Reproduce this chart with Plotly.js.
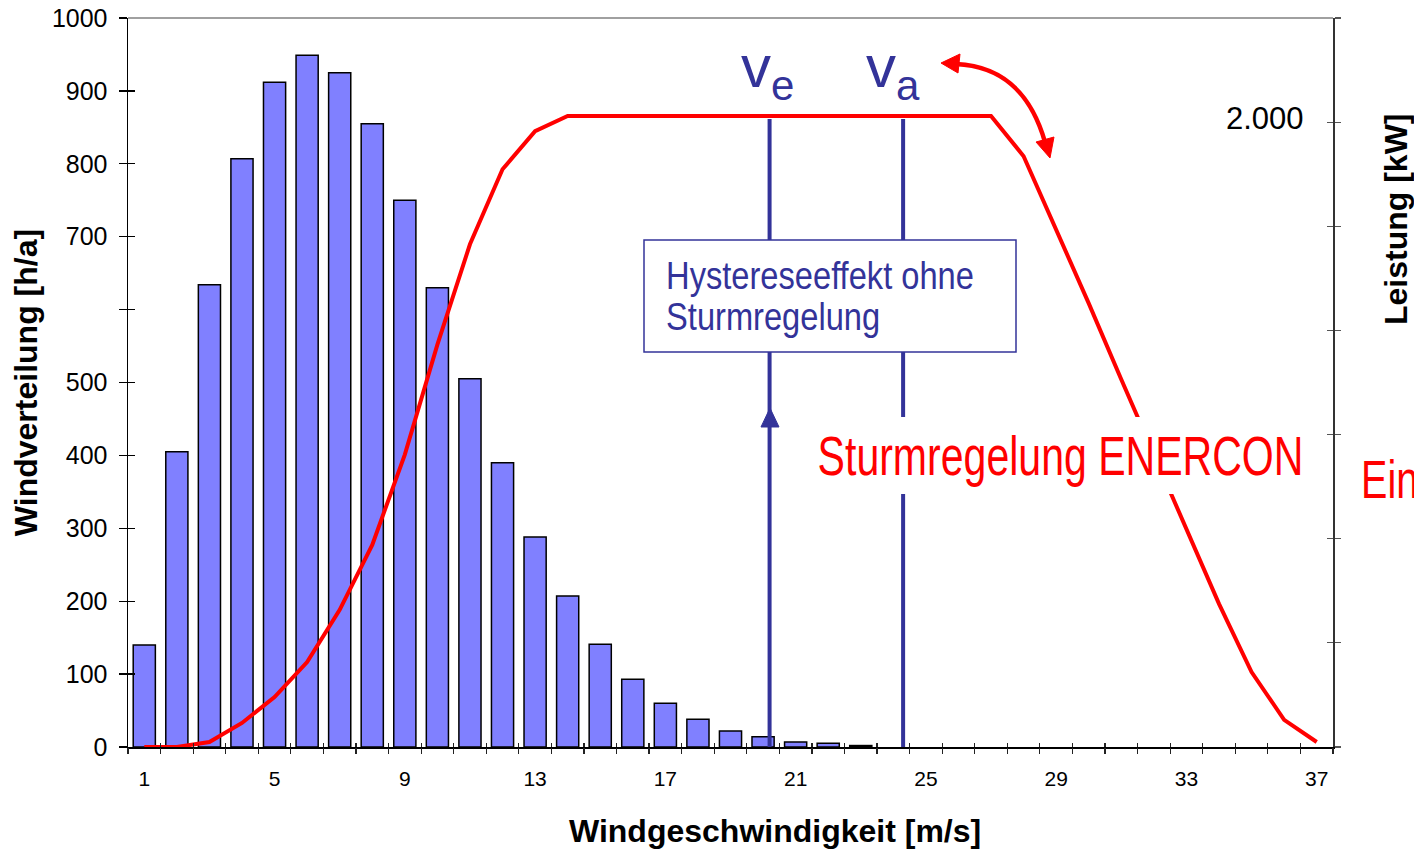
<!DOCTYPE html>
<html>
<head>
<meta charset="utf-8">
<script src="https://cdn.plot.ly/plotly-3.0.1.min.js"></script>
<style>
  html, body { margin: 0; padding: 0; background: #ffffff; }
  #chart { width: 1414px; height: 850px; }
</style>
</head>
<body>
<div id="chart"></div>
<script>
// ---------- data ----------
const windSpeed = [1,2,3,4,5,6,7,8,9,10,11,12,13,14,15,16,17,18,19,20,21,22,23,24,25,26,27,28,29,30,31,32,33,34,35,36,37];
const hoursPerYear = [140,405,634,807,912,949,925,855,750,630,505,390,288,207,141,93,60,38,22,14,7,5,2,null,null,null,null,null,null,null,null,null,null,null,null,null,null];
const powerKW = [0,0,16,77,160,272,439,647,936,1288,1609,1849,1971,2020,2020,2020,2020,2020,2020,2020,2020,2020,2020,2020,2020,2020,2020,1891,1657,1420,1176,939,696,458,240,87,16];

const xTickVals = [1,5,9,13,17,21,25,29,33,37];
const xTickText = ['1','5','9','13','17','21','25','29','33','37'];
const xBoundaryTicks = [0.5,1.5,2.5,3.5,4.5,5.5,6.5,7.5,8.5,9.5,10.5,11.5,12.5,13.5,14.5,15.5,16.5,17.5,18.5,19.5,20.5,21.5,22.5,23.5,24.5,25.5,26.5,27.5,28.5,29.5,30.5,31.5,32.5,33.5,34.5,35.5,36.5,37.5];
const yTickVals = [0,100,200,300,400,500,600,700,800,900,1000];
const yTickText = ['0','100','200','300','400','500','','700','800','900','1000'];
const y2TickVals = [0,333.33,666.67,1000,1333.33,1666.67,2000,2333.33];
const y2LabelValue = 2000;
const y2LabelText = '2.000';

const vEin = 20.2;   // v_e
const vAus = 24.3;   // v_a
const vTop = 2010;

// ---------- helpers (pixel -> paper for decorations) ----------
const L = 128, R = 1333, T = 18, B = 747;
function px(x){ return (x - L) / (R - L); }
function py(y){ return (B - y) / (B - T); }
function P(x, y){ return px(x).toFixed(5) + ',' + py(y).toFixed(5); }

const blue = '#333399';
const red = '#FF0000';
const arial = '"Liberation Sans", Arial, sans-serif';

const traces = [
  {
    type: 'bar', x: windSpeed, y: hoursPerYear, width: 0.68,
    marker: { color: '#8080FF', line: { color: '#000000', width: 1.5 } },
    xaxis: 'x', yaxis: 'y', showlegend: false, hoverinfo: 'skip'
  },
  {
    type: 'scatter', mode: 'lines', x: windSpeed, y: powerKW,
    line: { color: red, width: 4 },
    xaxis: 'x', yaxis: 'y2', showlegend: false, hoverinfo: 'skip'
  },
  { type: 'scatter', x: [], y: [], xaxis: 'x2', yaxis: 'y', showlegend: false },
  { type: 'scatter', x: [], y: [], xaxis: 'x3', yaxis: 'y', showlegend: false },
  { type: 'scatter', x: [], y: [], xaxis: 'x', yaxis: 'y3', showlegend: false },
  { type: 'scatter', x: [], y: [], xaxis: 'x', yaxis: 'y4', showlegend: false }
];

// annotations; narrow ones get a horizontal squeeze after rendering (condensed face)
const annotations = [
  { text: y2LabelText, xref: 'paper', yref: 'y2', x: px(1306), y: y2LabelValue, xanchor: 'right', yanchor: 'middle', yshift: 4,
    showarrow: false, font: { size: 31, family: arial, color: '#000' } },
  { text: 'Windgeschwindigkeit [m/s]', xref: 'paper', yref: 'paper', x: px(775), y: py(831), xanchor: 'center', yanchor: 'middle',
    showarrow: false, font: { size: 32, family: arial, weight: 'bold', color: '#000' } },
  { text: 'Leistung [kW]', xref: 'paper', yref: 'paper', x: px(1396), y: py(219), xanchor: 'center', yanchor: 'middle', textangle: -90,
    showarrow: false, font: { size: 32, family: arial, weight: 'bold', color: '#000' } },
  { text: 'v<sub>e</sub>', xref: 'paper', yref: 'paper', x: px(739), y: py(71), xanchor: 'left', yanchor: 'middle',
    showarrow: false, font: { size: 60, family: arial, color: blue } },
  { text: 'v<sub>a</sub>', xref: 'paper', yref: 'paper', x: px(864), y: py(71), xanchor: 'left', yanchor: 'middle',
    showarrow: false, font: { size: 60, family: arial, color: blue } },
  { text: 'Hystereseeffekt ohne', xref: 'paper', yref: 'paper', x: px(664), y: py(276), xanchor: 'left', yanchor: 'middle',
    showarrow: false, font: { size: 38, family: arial, color: blue } },
  { text: 'Sturmregelung', xref: 'paper', yref: 'paper', x: px(664), y: py(317), xanchor: 'left', yanchor: 'middle',
    showarrow: false, font: { size: 38, family: arial, color: blue } },
  { text: 'Sturmregelung ENERCON', xref: 'paper', yref: 'paper', x: px(1060), y: py(456), xanchor: 'center', yanchor: 'middle',
    showarrow: false, font: { size: 55, family: arial, color: red } },
  { text: 'Ein', xref: 'paper', yref: 'paper', x: px(1359), y: py(479), xanchor: 'left', yanchor: 'middle',
    showarrow: false, font: { size: 53, family: arial, color: red } }
];
// index -> {width in px (target), or same: index to copy factor from}, pivot
const squeeze = {
  5: { width: 308, pivot: 'left' },
  6: { same: 5, pivot: 'left' },
  7: { width: 486, pivot: 'center' },
  8: { same: 7, pivot: 'left' }
};

const xr = [0.5, 37.5];
const layout = {
  width: 1414, height: 850,
  margin: { l: L, r: 1414 - R, t: T, b: 850 - B, pad: 0 },
  paper_bgcolor: '#ffffff', plot_bgcolor: '#ffffff',
  font: { family: arial, color: '#000000' },
  showlegend: false,
  xaxis: {
    range: xr, tickmode: 'array', tickvals: xTickVals, ticktext: xTickText,
    ticks: '', showgrid: false, zeroline: false,
    showline: true, linecolor: '#000000', linewidth: 1.5,
    tickfont: { size: 21, family: arial, color: '#000' }, ticklabelstandoff: 12
  },
  xaxis2: {
    overlaying: 'x', anchor: 'y', side: 'bottom', range: xr,
    tickmode: 'array', tickvals: xBoundaryTicks, ticks: 'outside', ticklen: 6, tickwidth: 1.2, tickcolor: '#222',
    showticklabels: false, showgrid: false, zeroline: false, showline: false
  },
  xaxis3: {
    overlaying: 'x', anchor: 'y', side: 'bottom', range: xr,
    tickmode: 'array', tickvals: xBoundaryTicks, ticks: 'inside', ticklen: 4, tickwidth: 1.2, tickcolor: '#222',
    showticklabels: false, showgrid: false, zeroline: false, showline: false
  },
  yaxis: {
    range: [0, 1000], tickmode: 'array', tickvals: yTickVals, ticktext: yTickText,
    ticks: 'outside', ticklen: 8, tickwidth: 1.2, tickcolor: '#000',
    showgrid: false, zeroline: false,
    showline: true, linecolor: '#000000', linewidth: 1.5,
    tickfont: { size: 25, family: arial, color: '#000' }, ticklabelstandoff: 6,
    title: { text: 'Windverteilung [h/a]', font: { size: 32, family: arial, weight: 'bold', color: '#000' }, standoff: 4 }
  },
  yaxis3: {
    overlaying: 'y', anchor: 'x', side: 'left', range: [0, 1000],
    tickmode: 'array', tickvals: yTickVals, ticks: 'inside', ticklen: 7, tickwidth: 1.2, tickcolor: '#000',
    showticklabels: false, showgrid: false, zeroline: false, showline: false
  },
  yaxis2: {
    overlaying: 'y', anchor: 'x', side: 'right', range: [0, 2333.33],
    tickmode: 'array', tickvals: y2TickVals, ticks: 'outside', ticklen: 6, tickwidth: 1.2, tickcolor: '#555',
    showticklabels: false, showgrid: false, zeroline: false,
    showline: true, linecolor: '#333333', linewidth: 1.5
  },
  yaxis4: {
    overlaying: 'y', anchor: 'x', side: 'right', range: [0, 2333.33],
    tickmode: 'array', tickvals: y2TickVals,
    ticks: 'inside', ticklen: 6, tickwidth: 1.2, tickcolor: '#555',
    showticklabels: false, showgrid: false, zeroline: false, showline: false
  },
  shapes: [
    { type: 'line', xref: 'paper', yref: 'paper', x0: 0, x1: 1, y0: 1, y1: 1, line: { color: '#808080', width: 1.5 }, layer: 'above' },
    { type: 'line', xref: 'x', yref: 'y2', x0: vEin, x1: vEin, y0: 0, y1: vTop, line: { color: blue, width: 4 }, layer: 'above' },
    { type: 'line', xref: 'x', yref: 'y2', x0: vAus, x1: vAus, y0: 0, y1: vTop, line: { color: blue, width: 4 }, layer: 'above' },
    { type: 'path', xref: 'paper', yref: 'paper', path: 'M ' + P(770, 408) + ' L ' + P(761, 427) + ' L ' + P(779, 427) + ' Z',
      fillcolor: blue, line: { color: blue, width: 1 }, layer: 'above' },
    // white background behind the red label (covers curve and v_a line)
    { type: 'rect', xref: 'paper', yref: 'paper', x0: px(810), x1: px(1310), y0: py(494), y1: py(417),
      fillcolor: '#ffffff', line: { width: 0 }, layer: 'above' },
    { type: 'rect', xref: 'paper', yref: 'paper', x0: px(644), x1: px(1016), y0: py(352), y1: py(240),
      fillcolor: '#ffffff', line: { color: blue, width: 1.5 }, layer: 'above' },
    { type: 'path', xref: 'paper', yref: 'paper', path: 'M ' + P(956, 64) + ' C ' + P(1000, 66) + ' ' + P(1030, 90) + ' ' + P(1045, 142),
      line: { color: red, width: 4.5 }, layer: 'above' },
    { type: 'path', xref: 'paper', yref: 'paper', path: 'M ' + P(941, 63) + ' L ' + P(960, 54) + ' L ' + P(958, 73) + ' Z',
      fillcolor: red, line: { color: red, width: 1 }, layer: 'above' },
    { type: 'path', xref: 'paper', yref: 'paper', path: 'M ' + P(1050, 158) + ' L ' + P(1036, 142) + ' L ' + P(1054, 137) + ' Z',
      fillcolor: red, line: { color: red, width: 1 }, layer: 'above' }
  ],
  annotations: annotations
};

function applySqueeze(gd) {
  const factors = {};
  const groups = gd.querySelectorAll('g.annotation');
  const byIndex = {};
  groups.forEach(g => { byIndex[g.getAttribute('data-index')] = g; });
  Object.keys(squeeze).forEach(k => {
    const s = squeeze[k];
    const g = byIndex[k];
    if (!g) return;
    const t = g.querySelector('text.annotation-text');
    if (!t) return;
    const bb = t.getBBox();
    let f = s.width ? s.width / bb.width : (factors[s.same] || 0.82);
    factors[k] = f;
    const pivot = s.pivot === 'left' ? bb.x : bb.x + bb.width / 2;
    const prev = t.getAttribute('transform') || '';
    t.setAttribute('transform', (prev + ' translate(' + pivot + ',0) scale(' + f + ',1) translate(' + (-pivot) + ',0)').trim());
  });
}

Plotly.newPlot('chart', traces, layout, { staticPlot: true, displayModeBar: false })
  .then(gd => applySqueeze(gd));
</script>
</body>
</html>
